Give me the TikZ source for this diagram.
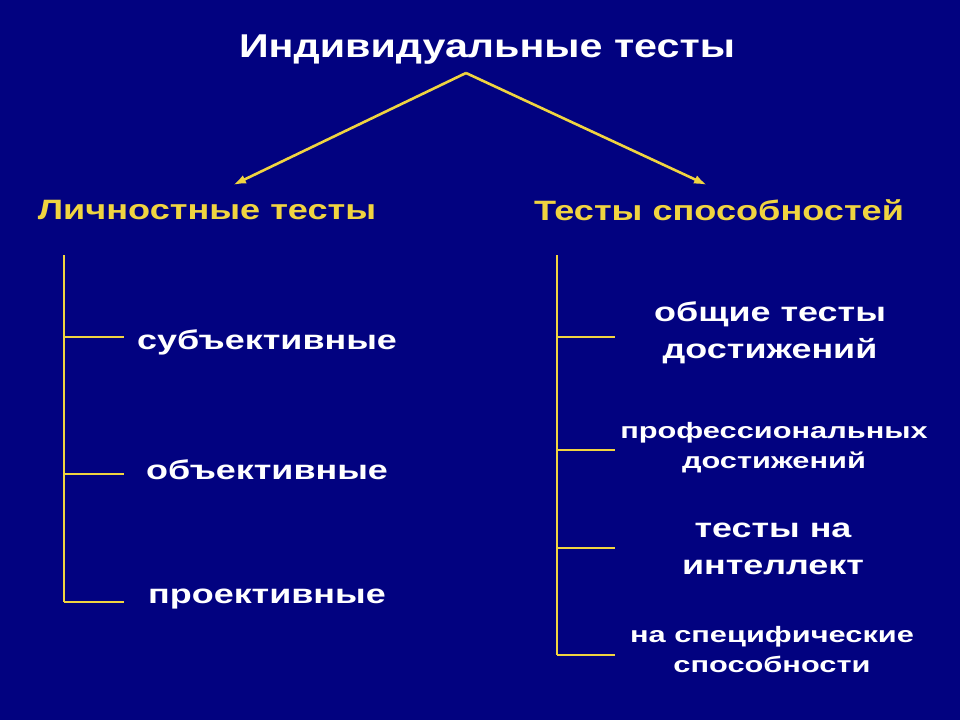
\documentclass[tikz,border=0pt]{standalone}
\usepackage{fontspec}
\setmainfont{Liberation Sans}
\begin{document}
\begin{tikzpicture}[x=1pt,y=-1pt,
  ln/.style={draw=ylw,line width=2.6pt},
  arr/.style={ln,-{Latex[length=13pt,width=9pt]}},
  ttl/.style={text=white,xscale=1.25,font=\bfseries\fontsize{33}{38}\selectfont},
  sub/.style={text=ylw,xscale=1.29,font=\bfseries\fontsize{28}{32}\selectfont},
  itm/.style={text=white,xscale=1.33,font=\bfseries\fontsize{27}{37}\selectfont,align=center},
  sm/.style={text=white,xscale=1.38,font=\bfseries\fontsize{22.3}{30}\selectfont,align=center}]
\usetikzlibrary{arrows.meta}
\definecolor{bg}{RGB}{2,2,128}
\definecolor{ylw}{RGB}{240,212,64}
\fill[bg] (0,0) rectangle (960,720);
\useasboundingbox (0,0) rectangle (960,720);
\node[ttl] (t) at (487,50) {Индивидуальные тесты};
\coordinate (apex) at (466,73);
\node[sub] (l) at (207,210) {Личностные тесты};
\node[sub] (r) at (719,210) {Тесты способностей};
\coordinate (la) at (233,185);
\coordinate (ra) at (707,185);
\draw[arr] (apex) -- (la);
\draw[arr] (apex) -- (ra);
% left
\coordinate (l0) at (64,255); \coordinate (l3) at (64,602);
\draw[ln] (l0) -- (l3);
\node[itm] (a1) at (267,342) {субъективные};
\node[itm] (a2) at (267,470) {объективные};
\node[itm] (a3) at (267,599) {проективные};
\foreach \y/\n in {337/a1,474/a2,602/a3}{
  \coordinate (s\n) at (64,\y); \coordinate (e\n) at (124,\y);
  \draw[ln] (s\n) -- (e\n);}
% right
\coordinate (r0) at (557,255); \coordinate (r4) at (557,655);
\draw[ln] (r0) -- (r4);
\node[itm] (b1) at (770,333) {общие тесты\\достижений};
\node[sm] (b2) at (774,448) {профессиональных\\достижений};
\node[itm] (b3) at (773,549) {тесты на\\интеллект};
\node[sm] (b4) at (772,650) {на специфические\\способности};
\foreach \y/\n in {337/b1,450/b2,548/b3,655/b4}{
  \coordinate (s\n) at (557,\y); \coordinate (e\n) at (615,\y);
  \draw[ln] (s\n) -- (e\n);}
\end{tikzpicture}
\end{document}
